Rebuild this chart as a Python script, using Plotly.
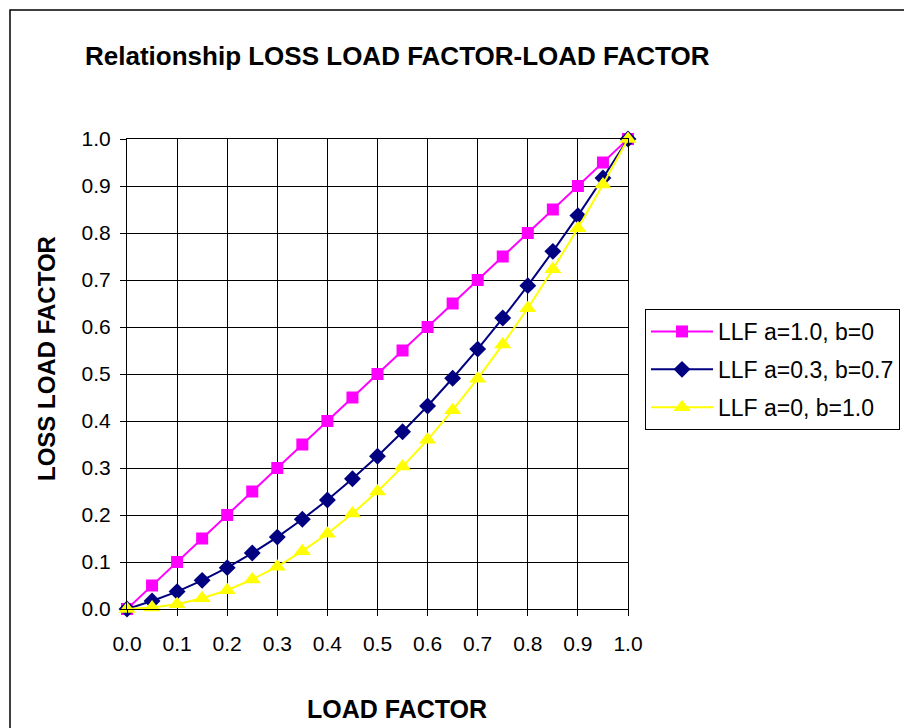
import plotly.graph_objects as go

# Load factor (x) and loss load factor curves for three (a, b) weightings
load_factor = [0.00, 0.05, 0.10, 0.15, 0.20, 0.25, 0.30, 0.35, 0.40, 0.45, 0.50,
               0.55, 0.60, 0.65, 0.70, 0.75, 0.80, 0.85, 0.90, 0.95, 1.00]
llf_a10_b0 = [0.00, 0.05, 0.10, 0.15, 0.20, 0.25, 0.30, 0.35, 0.40, 0.45, 0.50,
              0.55, 0.60, 0.65, 0.70, 0.75, 0.80, 0.85, 0.90, 0.95, 1.00]
llf_a03_b07 = [0.000, 0.017, 0.037, 0.061, 0.088, 0.119, 0.153, 0.191, 0.232, 0.277, 0.325,
               0.377, 0.432, 0.491, 0.553, 0.619, 0.688, 0.761, 0.837, 0.917, 1.000]
llf_a0_b10 = [0.000, 0.003, 0.010, 0.023, 0.040, 0.063, 0.090, 0.123, 0.160, 0.203, 0.250,
              0.303, 0.360, 0.423, 0.490, 0.563, 0.640, 0.723, 0.810, 0.903, 1.000]

series_names = ["LLF a=1.0, b=0", "LLF a=0.3, b=0.7", "LLF a=0, b=1.0"]
tick_values = [0.0, 0.1, 0.2, 0.3, 0.4, 0.5, 0.6, 0.7, 0.8, 0.9, 1.0]

FONT = "Liberation Sans, Arial, sans-serif"

# plot-area placement in pixels
W, H = 904, 728
L, R, T, B = 127, 628, 139, 609
pw, ph = R - L, B - T


def px_x(x):
    return (x - L) / pw


def px_y(y):
    return (B - y) / ph


fig = go.Figure()

styles = [
    dict(color="#FF00FF", symbol="square", size=12),
    dict(color="#000080", symbol="diamond", size=13),
    dict(color="#FFFF00", symbol="triangle-up", size=15),
]
for i, (name, ys, st) in enumerate(zip(series_names,
                                       [llf_a10_b0, llf_a03_b07, llf_a0_b10],
                                       styles)):
    fig.add_trace(go.Scatter(
        x=load_factor, y=ys, name=name, mode="lines+markers",
        line=dict(color=st["color"], width=2),
        marker=dict(color=st["color"], symbol=st["symbol"], size=st["size"],
                    line=dict(width=0)),
        cliponaxis=False, legendgroup=f"g{i}",
    ))

axis_common = dict(
    range=[0, 1], tickvals=tick_values, tickformat=".1f",
    showgrid=True, gridcolor="#000000", gridwidth=1,
    showline=True, linecolor="#000000", linewidth=1, mirror=True,
    ticks="outside", ticklen=6, tickwidth=1, tickcolor="#000000",
    tickfont=dict(family=FONT, size=21, color="#000000"),
    zeroline=False, fixedrange=True, automargin=False,
)

fig.update_layout(
    width=W, height=H,
    margin=dict(l=L, r=W - R, t=T, b=H - B, pad=0, autoexpand=False),
    paper_bgcolor="#FFFFFF", plot_bgcolor="#FFFFFF",
    xaxis=dict(**axis_common, ticklabelstandoff=10),
    yaxis=dict(**axis_common, ticklabelstandoff=5),
    showlegend=True,
    legend=dict(
        x=px_x(645), y=px_y(309), xanchor="left", yanchor="top",
        bordercolor="#000000", borderwidth=1, bgcolor="#FFFFFF",
        font=dict(family=FONT, size=23, color="#000000"),
        traceorder="grouped", tracegroupgap=5, itemwidth=62,
    ),
    annotations=[
        dict(text="<b>Relationship LOSS LOAD FACTOR-LOAD FACTOR</b>",
             xref="paper", yref="paper", x=px_x(83), y=px_y(56),
             xanchor="left", yanchor="middle", showarrow=False,
             font=dict(family=FONT, size=26, color="#000000")),
        dict(text="<b>LOAD FACTOR</b>",
             xref="paper", yref="paper", x=px_x(397), y=px_y(709),
             xanchor="center", yanchor="middle", showarrow=False,
             font=dict(family=FONT, size=25, color="#000000")),
        dict(text="<b>LOSS LOAD FACTOR</b>", textangle=-90,
             xref="paper", yref="paper", x=px_x(46), y=px_y(359),
             xanchor="center", yanchor="middle", showarrow=False,
             font=dict(family=FONT, size=24, color="#000000")),
    ],
    shapes=[
        # outer chart frame
        dict(type="rect", xref="paper", yref="paper",
             x0=px_x(10), y0=px_y(10), x1=px_x(W + 20), y1=px_y(H + 20),
             line=dict(color="#000000", width=1.5), fillcolor="rgba(0,0,0,0)",
             layer="below"),
    ],
)

fig.write_html("out.html")
